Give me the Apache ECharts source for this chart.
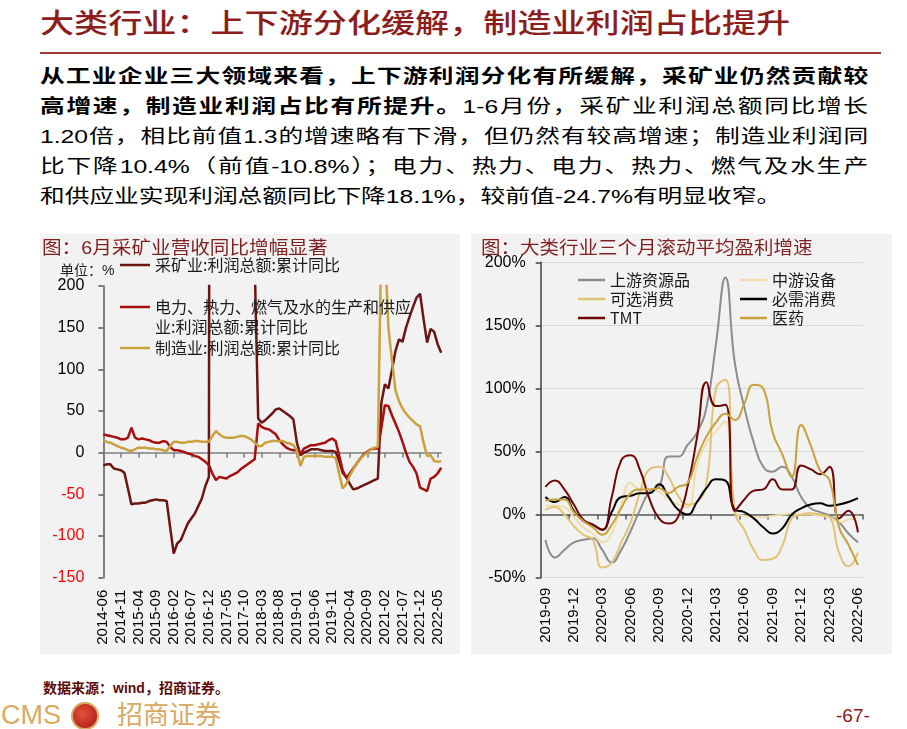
<!DOCTYPE html>
<html><head><meta charset="utf-8">
<script src="https://cdn.jsdelivr.net/npm/echarts@6.0.0/dist/echarts.min.js"></script>
<style>
html,body{margin:0;padding:0;background:#fff;width:907px;height:729px;overflow:hidden;font-family:"Liberation Sans","Noto Sans CJK SC",sans-serif;}
.abs{position:absolute;white-space:nowrap;}
#title{left:40px;top:6px;font-size:27px;line-height:36px;color:#8c1d1d;font-weight:500;transform:scaleX(1.263);transform-origin:0 0;}
#rule{left:40px;top:52px;width:841px;height:2px;background:#a03535;}
.bl{left:40px;font-size:19px;line-height:30px;height:30px;color:#000;transform:scaleX(1.3);transform-origin:0 0;}
.j{width:637px;text-align:justify;text-align-last:justify;}
.b{font-weight:bold;}
.panel{background:#f2f2f2;top:234px;height:420px;}
.pt{font-size:18px;line-height:22px;color:#7f1f1f;transform-origin:0 0;}
#chart{position:absolute;left:0;top:0;width:907px;height:729px;z-index:1;}
.ov{z-index:2;}
</style></head>
<body>
<div id="title" class="abs">大类行业：上下游分化缓解，制造业利润占比提升</div>
<div id="rule" class="abs"></div>
<div class="abs bl j b" style="top:62px">从工业企业三大领域来看，上下游利润分化有所缓解，采矿业仍然贡献较</div>
<div class="abs bl j" style="top:92px"><b>高增速，制造业利润占比有所提升。</b>1-6月份，采矿业利润总额同比增长</div>
<div class="abs bl j" style="top:122px">1.20倍，相比前值1.3的增速略有下滑，但仍然有较高增速；制造业利润同</div>
<div class="abs bl j" style="top:152px">比下降10.4%（前值-10.8%）；电力、热力、电力、热力、燃气及水生产</div>
<div class="abs bl" style="top:182px">和供应业实现利润总额同比下降18.1%，较前值-24.7%有明显收窄。</div>

<div class="abs panel" style="left:40px;width:420px;"></div>
<div class="abs panel" style="left:471px;width:421px;"></div>
<div class="abs pt ov" style="left:42px;top:237px;transform:scaleX(1.09);">图：6月采矿业营收同比增幅显著</div>
<div class="abs pt ov" style="left:481px;top:237px;transform:scaleX(1.083);">图：大类行业三个月滚动平均盈利增速</div>
<div class="abs ov" style="left:60px;top:261px;font-size:14px;line-height:18px;color:#222;">单位：%</div>

<div class="abs" style="left:43px;top:679px;font-size:14px;line-height:18px;font-weight:bold;color:#5c0b0b;">数据来源：wind，招商证券。</div>
<div class="abs" style="left:1px;top:699px;font-size:27px;line-height:32px;color:#d8aa62;">CMS</div>
<div class="abs" style="left:71px;top:702px;width:24px;height:24px;border-radius:50%;background:radial-gradient(circle at 40% 40%,#e5533c,#a3130f);border:2px solid #d8aa62;"></div>
<div class="abs" style="left:117px;top:699px;font-size:26px;line-height:32px;color:#d8aa62;">招商证券</div>
<div class="abs" style="left:836px;top:705px;font-size:19px;line-height:22px;color:#8b1a1a;">-67-</div>

<div id="chart"></div>
<script>
const leftMonths = ['2014-06','2014-07','2014-08','2014-09','2014-10','2014-11','2014-12',
'2015-01','2015-02','2015-03','2015-04','2015-05','2015-06','2015-07','2015-08','2015-09','2015-10','2015-11','2015-12',
'2016-01','2016-02','2016-03','2016-04','2016-05','2016-06','2016-07','2016-08','2016-09','2016-10','2016-11','2016-12',
'2017-01','2017-02','2017-03','2017-04','2017-05','2017-06','2017-07','2017-08','2017-09','2017-10','2017-11','2017-12',
'2018-01','2018-02','2018-03','2018-04','2018-05','2018-06','2018-07','2018-08','2018-09','2018-10','2018-11','2018-12',
'2019-01','2019-02','2019-03','2019-04','2019-05','2019-06','2019-07','2019-08','2019-09','2019-10','2019-11','2019-12',
'2020-01','2020-02','2020-03','2020-04','2020-05','2020-06','2020-07','2020-08','2020-09','2020-10','2020-11','2020-12',
'2021-01','2021-02','2021-03','2021-04','2021-05','2021-06','2021-07','2021-08','2021-09','2021-10','2021-11','2021-12',
'2022-01','2022-02','2022-03','2022-04','2022-05','2022-06'];

const mining = [-15,-14,-14,-19,-20,-21,-24,-43,-62,-61,
-61,-60,-60,-58,-57,-56,-57,-57,-58,-90,
-121,-109,-105,-95,-85,-79,-73,-64,-55,-40,
-29,3000,3100,1500,900,700,600,500,430,380,
330,290,264,230,41,36,39,43,47,52,
53,50,47,44,40,12,-3,0,2,4,
4,4,3,2,2,2,1,-10,-24,-29,
-37,-44,-43,-41,-39,-37,-35,-33,-31,60,
82,77,99,122,136,133,150,163,175,186,
190.7,160,132,148.6,145,130,120];

const power = [22,21,20,19,18,16,16,18,30,18,
16,17,16,15,13,12,12,14,13,7,
3,3,2,1,-1,-2,-4,-5,-8,-11,
-15,-25,-33,-29,-30,-31,-28,-26,-24,-20,
-17,-14,-11,-8,35,31,29,28,25,22,
15,10,6,4,3,3,-2,5,7,9,
9,10,11,12,15,17,14,-3,-21,-30,
-25,-19,-13,-7,-2,1,4,5,5,30,
57,56,45,35,25,13,0,-11,-17,-25,
-42,-44,-46,-31,-29,-24.7,-18.1];

const manu = [15,13,12,10,8,6,5,3,2,4,
6,6,6,5,5,4,4,3,2,8,
13,13,12,12,13,13,14,14,13,13,
13,20,26,22,19,18,18,18,19,20,
20,18,16,12,8,8,12,13,14,14,
14,14,12,11,9,3,-16,-5,-4,-4,
-4,-4,-4,-5,-5,-5,-6,-25,-43,-38,
-28,-20,-13,-7,-3,0,4,6,7,260,
250,150,111,75,62,53,47,42,38,34,
31.6,12,-4,-3,-10,-10.8,-10.4];

const rightMonths = ['2019-09','2019-10','2019-11','2019-12',
'2020-01','2020-02','2020-03','2020-04','2020-05','2020-06','2020-07','2020-08','2020-09','2020-10','2020-11','2020-12',
'2021-01','2021-02','2021-03','2021-04','2021-05','2021-06','2021-07','2021-08','2021-09','2021-10','2021-11','2021-12',
'2022-01','2022-02','2022-03','2022-04','2022-05','2022-06'];

const upstream = [-20,-34,-28,-22,-20,-19,-28,-38,-28,-13, 4,18,22,46,46,55,65,85,135,188, 120,85,57,38,34,38,30,14,5,2, -1,-6,-15,-22];
const midEquip = [7,7,6,-2,-10,-15,-22,-15,8,25, 20,20,18,12,8,6,38,57,66,74, 2,-1,-2,-2,-1,0,1,0,0,-1, -2,-6,-4,-1];
const optCons  = [4,6,0,-9,-16,-20,-42,-38,-22,-6, 18,36,38,30,15,8,10,25,100,107, 2,-12,-28,-36,-35,-25,-3,0,1,0, -2,-30,-41,-30];
const essCons  = [14,10,14,3,-5,-8,-12,2,14,15, 17,17,24,14,4,0,10,21,28,27, 4,2,-3,-10,-15,-11,0,5,8,9, 7,8,10,13];
const tmt      = [22,27,20,8,-4,-8,-12,14,43,47, 35,12,-3,-7,-2,22,61,105,86,87, 3,12,19,20,28,20,20,39,36,32, 38,-3,3,-14];
const pharma   = [11,12,12,2,-5,-10,-16,-8,5,17, 20,20,21,17,22,25,45,62,73,80, 75,88,103,100,65,48,30,71,55,35, 27,-10,-24,-40];

const leftTicks = [-150,-100,-50,0,50,100,150,200];
const rightTicks = [-50,0,50,100,150,200];

const NM1 = '采矿业:利润总额:累计同比';
const NM2 = '电力、热力、燃气及水的生产和供应业:利润总额:累计同比';
const NM3 = '制造业:利润总额:累计同比';

const cjk = '"Noto Sans CJK SC", sans-serif';
const lat = '"Liberation Sans", Arial, sans-serif';

const chart = echarts.init(document.getElementById('chart'), null, {renderer:'canvas'});
const lineS = (name, data, color, xi, yi, w, smooth) => ({
  name, type:'line', data, xAxisIndex:xi, yAxisIndex:yi, showSymbol:false, symbol:'none',
  smooth: smooth, color, lineStyle:{color, width:w}, clip:true, emphasis:{disabled:true}, silent:true
});
const legendBase = {icon:'rect', itemWidth:30, itemHeight:2.5, padding:0, selectedMode:false,
  textStyle:{fontSize:16, fontFamily:cjk, color:'#1a1a1a', lineHeight:20}};

chart.setOption({
  animation:false,
  grid:[
    {left:103.3, top:286, width:337.9, height:291.7, containLabel:false, outerBoundsMode:'none'},
    {left:540.7, top:262.3, width:322, height:315.4, containLabel:false, outerBoundsMode:'none'}
  ],
  xAxis:[
    {gridIndex:0, type:'category', data:leftMonths, boundaryGap:false, position:'bottom',
     axisLine:{show:false, onZero:false}, axisTick:{show:false}, splitLine:{show:false},
     axisLabel:{interval:4, rotate:90, fontSize:15, fontFamily:lat, color:'#000', margin:12}},
    {gridIndex:0, type:'category', data:leftMonths, boundaryGap:false, position:'bottom',
     axisLine:{show:true, onZero:true, lineStyle:{color:'#7f7f7f', width:1.5}},
     axisTick:{show:true, interval:4, length:5, lineStyle:{color:'#7f7f7f', width:1.5}},
     axisLabel:{show:false}, splitLine:{show:false}},
    {gridIndex:1, type:'category', data:rightMonths, boundaryGap:true, position:'bottom',
     axisLine:{show:false, onZero:false}, axisTick:{show:false}, splitLine:{show:false},
     axisLabel:{interval:2, rotate:90, fontSize:15, fontFamily:lat, color:'#000', margin:10}},
    {gridIndex:1, type:'category', data:rightMonths, boundaryGap:true, position:'bottom',
     axisLine:{show:true, onZero:true, lineStyle:{color:'#595959', width:1.5}},
     axisTick:{show:true, interval:2, length:5, lineStyle:{color:'#595959', width:1.5}},
     axisLabel:{show:false}, splitLine:{show:false}}
  ],
  yAxis:[
    {gridIndex:0, type:'value', min:leftTicks[0], max:leftTicks[leftTicks.length-1], interval:50,
     axisLine:{show:true, onZero:false, lineStyle:{color:'#595959', width:1.5}},
     axisTick:{show:true, length:5, lineStyle:{color:'#595959', width:1.5}},
     splitLine:{show:false},
     axisLabel:{fontSize:16, fontFamily:lat, margin:19,
       color:function(v){ return parseFloat(v) < 0 ? '#ff0000' : '#000'; }}},
    {gridIndex:1, type:'value', min:rightTicks[0], max:rightTicks[rightTicks.length-1], interval:50,
     axisLine:{show:true, onZero:false, lineStyle:{color:'#404040', width:1.5}},
     axisTick:{show:true, length:5, lineStyle:{color:'#404040', width:1.5}},
     splitLine:{show:true, lineStyle:{color:'#d9d9d9', width:1}},
     axisLabel:{fontSize:16, fontFamily:lat, margin:15, color:'#000', formatter:'{value}%'}}
  ],
  legend:[
    Object.assign({}, legendBase, {data:[NM1], left:120, top:255}),
    Object.assign({}, legendBase, {data:[NM2], left:120, top:297, formatter:function(){return '电力、热力、燃气及水的生产和供应';}}),
    Object.assign({}, legendBase, {data:[NM3], left:120, top:338}),
    Object.assign({}, legendBase, {data:['上游资源品','可选消费','TMT'], orient:'vertical', left:578, top:270.5, itemWidth:27, itemGap:0,
      textStyle:{fontSize:16, fontFamily:cjk, color:'#1a1a1a', lineHeight:19}}),
    Object.assign({}, legendBase, {data:['中游设备','必需消费','医药'], orient:'vertical', left:740, top:270.5, itemWidth:27, itemGap:0,
      textStyle:{fontSize:16, fontFamily:cjk, color:'#1a1a1a', lineHeight:19}})
  ],
  graphic:[
    {type:'text', left:155, top:319, z:10, style:{text:'业:利润总额:累计同比', fontSize:16, fontFamily:cjk, fill:'#1a1a1a'}}
  ],
  series:[
    lineS(NM1, mining, '#6d1414', 0, 0, 2.5, false),
    lineS(NM2, power, '#a80e0e', 0, 0, 2.5, false),
    lineS(NM3, manu, '#c9a23e', 0, 0, 2.5, false),
    lineS('上游资源品', upstream, '#8c8c8c', 2, 1, 2, 0.5),
    lineS('中游设备', midEquip, '#f1dcab', 2, 1, 2, 0.5),
    lineS('可选消费', optCons, '#e2c274', 2, 1, 2, 0.5),
    lineS('必需消费', essCons, '#000000', 2, 1, 2, 0.5),
    lineS('TMT', tmt, '#6e0606', 2, 1, 2, 0.5),
    lineS('医药', pharma, '#c8a03c', 2, 1, 2, 0.5)
  ]
});
</script>
</body></html>
